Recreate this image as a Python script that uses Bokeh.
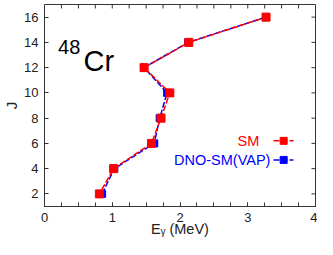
import math
from bokeh.plotting import figure
from bokeh.models import (Range1d, LinearAxis, SingleIntervalTicker, FixedTicker)
from bokeh.core.properties import value
from bokeh.embed import file_html
from bokeh.resources import INLINE

# data
J = [2, 4, 6, 8, 10, 12, 14, 16]
E_SM = [0.81, 1.02, 1.58, 1.72, 1.85, 1.47, 2.13, 3.27]
E_DNO = [0.85, 1.03, 1.62, 1.70, 1.81, 1.47, 2.12, 3.27]
y_ticks = [2, 4, 6, 8, 10, 12, 14, 16]
x_tick_marks = [i * 0.25 for i in range(1, 16)]

RED = "#ff0000"
BLUE = "#0000ff"
FONT = "Liberation Sans"
X0, X1, Y0, Y1 = 0, 4, 1, 17

p = figure(width=317, height=239, output_backend="svg", toolbar_location=None,
           x_range=Range1d(X0, X1), y_range=Range1d(Y0, Y1),
           min_border_left=44, min_border_right=2, min_border_top=4,
           min_border_bottom=31, x_axis_location=None, y_axis_location=None)
p.grid.visible = False
p.outline_line_color = "#333333"
p.outline_line_width = 1
p.background_fill_color = "white"
p.border_fill_color = "white"

def style_axis(ax):
    ax.axis_line_color = None
    ax.major_tick_in = 4
    ax.major_tick_out = 0
    ax.minor_tick_in = 4
    ax.minor_tick_out = 0
    ax.major_tick_line_color = "#333333"
    ax.minor_tick_line_color = "#333333"
    ax.major_label_text_font = FONT
    ax.major_label_text_color = "#222222"
    ax.major_label_text_font_size = "13px"
    ax.axis_label_text_font = FONT
    ax.axis_label_text_font_style = "normal"
    ax.axis_label_text_color = "#222222"

xb = LinearAxis(ticker=SingleIntervalTicker(interval=1, num_minor_ticks=4))
style_axis(xb)
xb.major_label_standoff = 6
xb.axis_label = "Eᵧ (MeV)"
xb.axis_label_text_font_size = "14.5px"
xb.axis_label_standoff = -4
yl = LinearAxis(ticker=FixedTicker(ticks=y_ticks))
style_axis(yl)
yl.minor_tick_in = 0
yl.major_label_standoff = 6
yl.axis_label = "J"
yl.axis_label_text_font_size = "15px"
yl.axis_label_standoff = 1
p.add_layout(xb, "below")
p.add_layout(yl, "left")

# mirrored inward ticks on top and right
p.ray(x=x_tick_marks, y=[Y1] * len(x_tick_marks), length=4, length_units="screen",
      angle=-math.pi / 2, line_color="#333333", line_width=1)
p.ray(x=[X1] * len(y_ticks), y=y_ticks, length=4, length_units="screen",
      angle=math.pi, line_color="#333333", line_width=1)

# series
p.line(E_DNO, J, line_color=BLUE, line_width=1.5, line_dash="6 2")
p.scatter(E_DNO, J, marker="square", size=7, fill_color=BLUE, line_color=BLUE)
p.line(E_SM, J, line_color=RED, line_width=1.5, line_dash="6 2", line_dash_offset=3)
p.scatter(E_SM, J, marker="square", size=8, fill_color=RED, line_color=RED)

# legend (manual, gnuplot style)
leg_names = ["SM", "DNO-SM(VAP)"]
leg_colors = [RED, BLUE]
leg_text_x = [3.17, 3.335]
leg_y = [6.2, 4.69]
leg_x0, leg_x1, leg_xm = 3.38, 3.675, 3.53
for name, c, tx, ly in zip(leg_names, leg_colors, leg_text_x, leg_y):
    p.text(x=[tx], y=[ly], text=[name], text_color=c, text_font=value(FONT),
           text_font_size="14.5px", text_align="right", text_baseline="middle")
    p.line([leg_x0, leg_x1], [ly, ly], line_color=c, line_width=1.5, line_dash="6 2")
    p.scatter([leg_xm], [ly], marker="square", size=7, fill_color=c, line_color=c)

# nucleus label  48Cr
p.text(x=[0.2], y=[13.65], text=["48"], text_color="black", text_font=value(FONT),
       text_font_size="20px", text_align="left", text_baseline="middle")
p.text(x=[0.575], y=[12.56], text=["Cr"], text_color="black", text_font=value(FONT),
       text_font_size="29px", text_align="left", text_baseline="middle")

open("out.html", "w").write(file_html(p, INLINE))
